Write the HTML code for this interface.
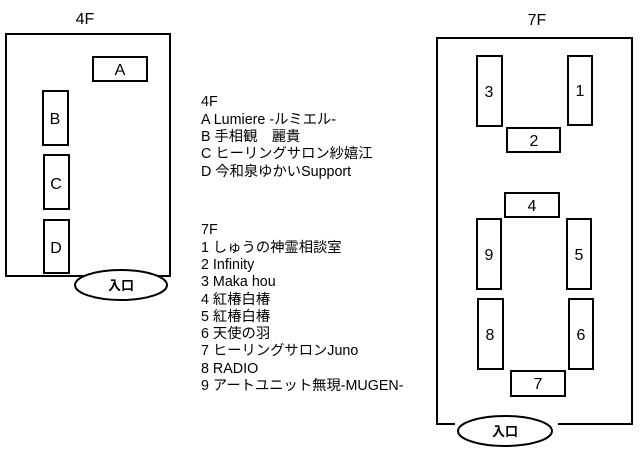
<!DOCTYPE html>
<html><head><meta charset="utf-8"><style>
body{margin:0;background:#fff;width:640px;height:455px;overflow:hidden}
</style></head><body>
<svg width="640" height="455" xmlns="http://www.w3.org/2000/svg" font-family="'Liberation Sans','Noto Sans CJK JP',sans-serif">
<g fill="none" stroke="#000" stroke-width="2">
<rect x="6" y="34" width="164" height="242"/>
<rect x="93" y="57" width="54" height="24"/>
<rect x="43" y="91" width="25" height="54"/>
<rect x="44" y="155" width="25" height="54"/>
<rect x="44" y="220" width="25" height="53"/>
<polyline points="455,424 437,424 437,38 632,38 632,424 558,424"/>
<rect x="477" y="56" width="25" height="70"/>
<rect x="568" y="56" width="24" height="69"/>
<rect x="507" y="128" width="53" height="24"/>
<rect x="505" y="193" width="54" height="24"/>
<rect x="477" y="219" width="24" height="70"/>
<rect x="567" y="219" width="24" height="70"/>
<rect x="478" y="299" width="25" height="70"/>
<rect x="569" y="299" width="24" height="70"/>
<rect x="511" y="371" width="54" height="25"/>
</g>
<ellipse cx="121" cy="285" rx="46" ry="15" fill="#fff" stroke="#000" stroke-width="2"/>
<ellipse cx="505" cy="431" rx="47" ry="15" fill="#fff" stroke="#000" stroke-width="2"/>
<g font-size="16" text-anchor="middle" fill="#000">
<text x="85" y="24">4F</text>
<text x="537" y="25">7F</text>
<text x="120" y="75">A</text>
<text x="55" y="124">B</text>
<text x="56" y="189">C</text>
<text x="56" y="253">D</text>
<text x="489" y="97">3</text>
<text x="580" y="96">1</text>
<text x="534" y="146">2</text>
<text x="532" y="211">4</text>
<text x="489" y="260">9</text>
<text x="579" y="260">5</text>
<text x="490" y="340">8</text>
<text x="581" y="340">6</text>
<text x="538" y="389">7</text>
<text x="121" y="290" font-size="13" font-weight="bold">入口</text>
<text x="505" y="436" font-size="13" font-weight="bold">入口</text>
</g>
<g font-size="14.3" fill="#000">
<text x="201" y="106">4F</text>
<text x="201" y="124">A Lumiere -ルミエル-</text>
<text x="201" y="141">B 手相観　麗貴</text>
<text x="201" y="158">C ヒーリングサロン紗嬉江</text>
<text x="201" y="176">D 今和泉ゆかいSupport</text>
<text x="201" y="234">7F</text>
<text x="201" y="252">1 しゅうの神霊相談室</text>
<text x="201" y="269">2 Infinity</text>
<text x="201" y="286">3 Maka hou</text>
<text x="201" y="304">4 紅椿白椿</text>
<text x="201" y="321">5 紅椿白椿</text>
<text x="201" y="338">6 天使の羽</text>
<text x="201" y="355">7 ヒーリングサロンJuno</text>
<text x="201" y="373">8 RADIO</text>
<text x="201" y="390">9 アートユニット無現-MUGEN-</text>
</g>
</svg>
</body></html>
